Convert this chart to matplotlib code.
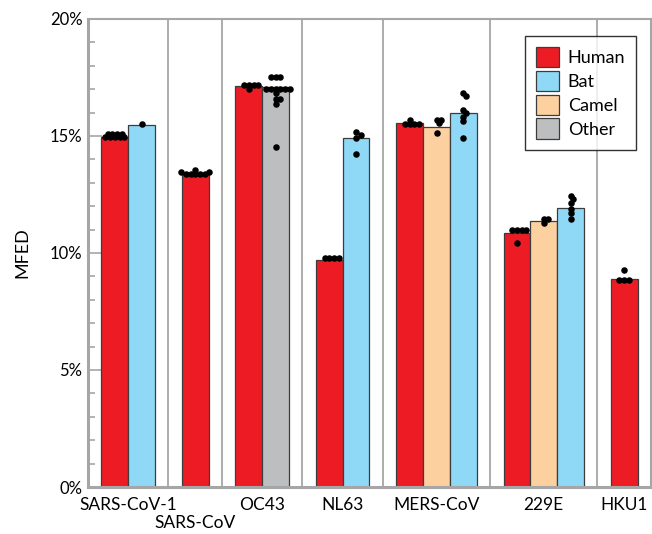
import numpy as np
import matplotlib
matplotlib.use("Agg")
import matplotlib.pyplot as plt
from matplotlib.patches import Patch
from matplotlib.ticker import MultipleLocator, FuncFormatter
from matplotlib.transforms import ScaledTranslation

plt.rcParams['font.family'] = ['Lato', 'DejaVu Sans']

# coronavirus groups and the hosts shown in each
groups = ["SARS-CoV-1", "SARS-CoV", "OC43", "NL63", "MERS-CoV", "229E", "HKU1"]
group_hosts = [["Human", "Bat"], ["Human"], ["Human", "Other"], ["Human", "Bat"],
               ["Human", "Camel", "Bat"], ["Human", "Camel", "Bat"], ["Human"]]

# bar heights (MFED, %)
bar_values = [[14.97, 15.49], [13.35], [17.14, 17.10], [9.72, 14.93],
              [15.54, 15.37, 15.97], [10.85, 11.38, 11.91], [8.89]]

# individual genomes (MFED, %)
dot_values = [
    [[14.94, 14.94, 14.94, 14.94, 14.94, 15.08, 15.08, 15.08, 15.08], [15.52]],
    [[13.37, 13.37, 13.37, 13.37, 13.37, 13.47, 13.47, 13.56]],
    [[17.2, 17.2, 17.2, 17.2, 17.02],
     [17.54, 17.54, 17.54, 17.01, 17.01, 17.01, 17.01, 17.01, 17.01,
      16.83, 16.58, 16.58, 16.36, 14.54]],
    [[9.79, 9.79, 9.79, 9.79], [15.15, 15.03, 14.92, 14.23]],
    [[15.53, 15.53, 15.53, 15.53, 15.69], [15.69, 15.69, 15.55, 15.11],
     [16.85, 16.71, 16.11, 15.97, 15.83, 15.66, 14.93]],
    [[10.97, 10.97, 10.97, 10.97, 10.44], [11.47, 11.47, 11.28],
     [12.44, 12.29, 12.15, 11.87, 11.7, 11.45]],
    [[8.85, 8.85, 8.85, 9.27]],
]

host_colors = {"Human": "#ed1c24", "Bat": "#8fd8f6", "Camel": "#fdd19f", "Other": "#bcbec0"}
legend_order = ["Human", "Bat", "Camel", "Other"]

W, H = 652, 534
fig = plt.figure(figsize=(W / 100, H / 100), dpi=100)
ax = fig.add_axes([88 / W, 47 / H, 563 / W, 468 / H])

gray = "#a6a6a6"
px_x = 563 / 21.0   # pixels per x unit
px_y = 468 / 20.0   # pixels per percent


def swarm(vals, step=4.7, mind=3.7):
    # simple beeswarm: horizontal offsets (in x units) so dots don't overlap
    placed = []
    offs = []
    cands = [0.0]
    for k in range(1, 20):
        cands += [k * step / 2, -k * step / 2]
    for v in vals:
        y = v * px_y
        for c in cands:
            if all((c - px) ** 2 + (y - py) ** 2 >= mind ** 2 for px, py in placed):
                placed.append((c, y))
                offs.append(c / px_x)
                break
    return offs


start = 0
tick_pos = []
seps = []
for g, hosts in enumerate(group_hosts):
    n = len(hosts)
    for i, h in enumerate(hosts):
        xc = start + 1 + i
        ax.bar(xc, bar_values[g][i], width=1.0, color=host_colors[h],
               edgecolor="#3c3c3c", linewidth=0.9, zorder=2)
        vals = dot_values[g][i]
        offs = swarm(vals)
        ax.scatter([xc + o for o in offs], vals, s=22, color="black",
                   zorder=3, linewidths=0)
    tick_pos.append(start + (n + 1) / 2)
    start += n + 1
    seps.append(start)

for s in seps[:-1]:
    ax.axvline(s, color=gray, lw=1.3, zorder=1)

ax.set_xlim(0, start)
ax.set_ylim(0, 20)

ax.set_xticks(tick_pos)
ax.set_xticklabels(groups, fontsize=12.5)
ax.tick_params(axis="x", length=0, pad=7)
# second label sits one row lower so it doesn't collide with its neighbour
lab = ax.get_xticklabels()[1]
lab.set_transform(lab.get_transform() + ScaledTranslation(0, -13.5 / 72, fig.dpi_scale_trans))

ax.yaxis.set_major_locator(MultipleLocator(5))
ax.yaxis.set_minor_locator(MultipleLocator(1))
ax.yaxis.set_major_formatter(FuncFormatter(lambda v, p: "%d%%" % v))
ax.tick_params(axis="y", which="major", direction="in", length=10, width=1.2,
               color=gray, labelsize=12, pad=4)
ax.tick_params(axis="y", which="minor", direction="in", length=5, width=1.2,
               color=gray)
ax.set_ylabel("MFED", fontsize=13, labelpad=14)

for side in ["left", "bottom"]:
    ax.spines[side].set_color(gray)
    ax.spines[side].set_linewidth(2.2)
for side in ["top", "right"]:
    ax.spines[side].set_color(gray)
    ax.spines[side].set_linewidth(1.5)

handles = [Patch(facecolor=host_colors[h], edgecolor="#3c3c3c", linewidth=0.9, label=h)
           for h in legend_order]
leg = ax.legend(handles=handles, loc="upper right", bbox_to_anchor=(636 / W, (534 - 36) / H),
                bbox_transform=fig.transFigure, fontsize=13, frameon=True, fancybox=False,
                edgecolor="black", handlelength=1.25, handleheight=1.35, handletextpad=0.5,
                labelspacing=0.2, borderpad=0.6, borderaxespad=0)
leg.get_frame().set_linewidth(1.0)
leg.set_zorder(5)

fig.savefig("out.png", dpi=100)
